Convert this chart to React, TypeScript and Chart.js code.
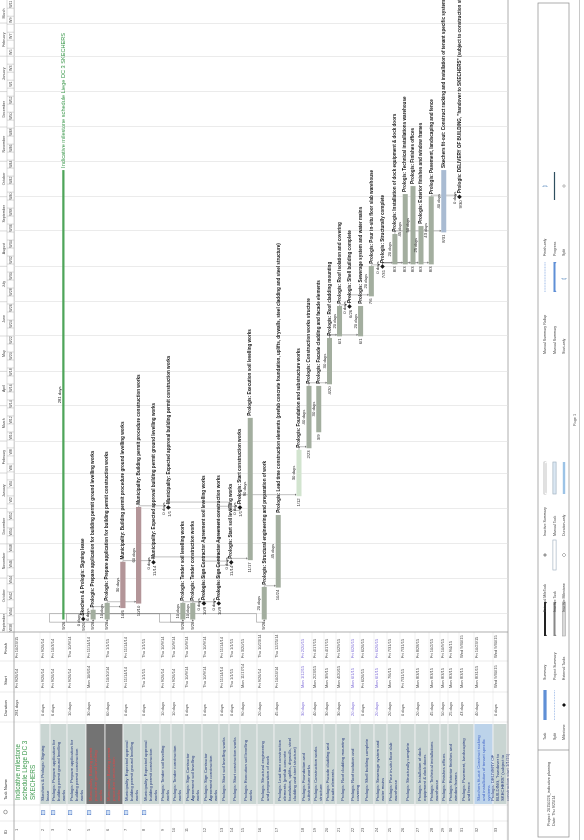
import React, { useEffect, useRef } from "react";
import { Chart, registerables } from "chart.js";
Chart.register(...registerables);

// ---------------- data ----------------
const taskIds = [
  1, 2, 3, 4, 5, 6, 7, 8, 9, 10, 11, 12, 13, 14, 15, 16, 17, 18, 19, 20, 21, 22, 23, 24, 25, 26, 27, 28, 29, 30, 31, 32, 33,
];
const taskNames = [
  "Indicative milestone\nschedule Liege DC 3\nSKECHERS",
  "Skechers & Prologis: Signing\nlease",
  "Prologis: Prepare application for\nbuilding permit ground levelling\nworks",
  "Prologis: Prepare application for\nbuilding permit construction\nworks",
  "Municipality: Building permit\nprocedure ground levelling\nworks",
  "Municipality: Building permit\nprocedure construction\nworks",
  "Municipality: Expected approval\nbuilding permit ground levelling\nworks",
  "Municipality: Expected approval\nbuilding permit construction\nworks",
  "Prologis: Tender soil levelling\nworks",
  "Prologis: Tender construction\nworks",
  "Prologis: Sign Contractor\nAgreement soil levelling\nworks",
  "Prologis: Sign Contractor\nAgreement construction\nworks",
  "Prologis: Start soil levelling works",
  "Prologis: Start construction works",
  "Prologis: Execution soil levelling\nworks",
  "Prologis: Structural engineering\nand preparation of work",
  "Prologis: Lead time construction\nelements (prefab concrete\nfoundation, uplifts, drywalls, steel\ncladding and steel structure)",
  "Prologis: Foundation and\nsubstructure works",
  "Prologis: Construction works\nstructure",
  "Prologis: Facade cladding and\nfacade elements",
  "Prologis: Roof cladding mounting",
  "Prologis: Roof isolation and\ncovering",
  "Prologis: Shell building complete",
  "Prologis: Sewerage system and\nwater mains",
  "Prologis: Pour in-situ floor slab\nwarehouse",
  "Prologis: Structurally complete",
  "Prologis: Installation of dock\nequipment & dock doors",
  "Prologis: Technical installations\nwarehouse",
  "Prologis: Finishes offices",
  "Prologis: Exterior finishes and\nwindow frames",
  "Prologis: Pavement, landscaping\nand fence",
  "Skechers fit-out: Construct racking\nand installation of tenant specific\nsystems",
  "Prologis: DELIVERY OF\nBUILDING, \"handover to\nSKECHERS\" (subject to\nconstruction start 1/1/15)",
];
const durations = [
  "281 days", "0 days", "6 days", "10 days", "30 days", "60 days", "0 days", "0 days", "10 days", "10 days",
  "0 days", "0 days", "0 days", "0 days", "90 days", "20 days", "45 days", "30 days", "40 days", "30 days",
  "30 days", "20 days", "0 days", "20 days", "20 days", "0 days", "20 days", "45 days", "50 days", "25 days",
  "43 days", "40 days", "0 days",
];
const starts = [
  "Fri 9/26/14", "Fri 9/26/14", "Fri 9/26/14", "Fri 9/26/14", "Mon 10/6/14", "Fri 10/10/14", "Fri 11/14/14", "Thu 1/1/15",
  "Fri 9/26/14", "Fri 9/26/14", "Thu 10/9/14", "Thu 10/9/14", "Fri 11/14/14", "Thu 1/1/15", "Mon 11/17/14", "Fri 9/26/14",
  "Fri 10/24/14", "Mon 1/12/15", "Mon 2/23/15", "Mon 3/9/15", "Mon 4/20/15", "Mon 6/1/15", "Fri 6/26/15", "Mon 6/1/15",
  "Mon 7/6/15", "Fri 7/31/15", "Mon 8/3/15", "Mon 8/3/15", "Mon 8/3/15", "Mon 8/3/15", "Mon 8/3/15", "Mon 8/31/15",
  "Wed 9/30/15",
];
const finishes = [
  "Fri 10/23/15", "Fri 9/26/14", "Fri 10/3/14", "Thu 10/9/14", "Fri 11/14/14", "Thu 1/1/15", "Fri 11/14/14", "Thu 1/1/15",
  "Thu 10/9/14", "Thu 10/9/14", "Thu 10/9/14", "Thu 10/9/14", "Fri 11/14/14", "Thu 1/1/15", "Fri 3/20/15", "Thu 10/23/14",
  "Thu 12/25/14", "Fri 2/20/15", "Fri 4/17/15", "Fri 4/17/15", "Fri 5/29/15", "Fri 6/26/15", "Fri 6/26/15", "Fri 6/26/15",
  "Fri 7/31/15", "Fri 7/31/15", "Fri 8/28/15", "Fri 10/2/15", "Fri 10/9/15", "Fri 9/4/15", "Wed 9/30/15", "Fri 10/23/15",
  "Wed 9/30/15",
];
const predecessors: number[][] = [
  [], [], [2], [2], [3], [4], [5], [6], [2], [2], [9], [10], [7, 11], [8, 12], [13], [2], [16], [14], [18], [],
  [19], [21], [22], [21], [23], [25], [26], [26], [26], [26], [26], [27], [31],
];
const axisStart = "Sun 9/14/14";
const axisEnd = "Thu 3/17/16";
const monthNames = [
  "January", "February", "March", "April", "May", "June", "July", "August", "September", "October", "November", "December",
];
const legendGroups = [
  ["Task", "Split", "Milestone"],
  ["Summary", "Project Summary", "External Tasks"],
  ["External MileTask", "Inactive Task", "Inactive Milestone"],
  ["Inactive Summary", "Manual Task", "Duration-only"],
  ["Manual Summary Rollup", "Manual Summary", "Start-only"],
  ["Finish-only", "Progress", "Split"],
];
const projectInfo = ["Project: 20150226_indicative planning", "Date: Thu 9/25/14"];

// ---------------- layout & styles ----------------
const W = 840;
const H = 584;
const HEADER_H = 14;
const GANTT_LEFT = 208;
const GANTT_BOTTOM = 508;
const rowHeights = [26, 10, 17, 19, 19, 18, 18, 19, 11, 13, 18, 17, 10, 11, 17, 17, 26, 12, 12, 12, 14, 10, 14, 13, 13, 15, 14, 11, 8, 11, 15, 19, 14];
const barTone = ["s", "", "n", "n", "c", "c", "", "", "n", "n", "", "", "", "", "n", "n", "n", "l", "n", "n", "n", "n", "", "n", "n", "", "n", "n", "n", "n", "n", "b", ""];
const rowTone = ["title", "", "", "", "crit", "crit", "", "", "", "", "", "", "", "", "", "", "", "manual", "", "", "", "manual", "", "manual", "", "", "", "", "", "", "", "fit", ""];
const FONT = '"Liberation Sans", Arial, Helvetica, sans-serif';

const BASE = Date.UTC(2014, 8, 26);
function dayOf(s: string): number {
  const p = s.trim().split(" ");
  const [m, d, y] = p[p.length - 1].split("/").map(Number);
  return (Date.UTC(2000 + y, m - 1, d) - BASE) / 86400000;
}
function shortDate(s: string): string {
  const p = s.trim().split(" ");
  const [m, d] = p[p.length - 1].split("/");
  return `${m}/${d}`;
}
function isoWeek(t: number): number {
  const d = new Date(t);
  const day = (d.getUTCDay() + 6) % 7;
  d.setUTCDate(d.getUTCDate() - day + 3);
  const y = d.getUTCFullYear();
  const jan4 = Date.UTC(y, 0, 4);
  const j = new Date(jan4);
  const mon1 = jan4 - ((j.getUTCDay() + 6) % 7) * 864e5;
  return 1 + Math.floor((d.getTime() - mon1) / (7 * 864e5));
}

const rowTops: number[] = [];
{
  let acc = HEADER_H;
  rowHeights.forEach((h) => {
    rowTops.push(acc);
    acc += h;
  });
}
const rowBarY = rowHeights.map((h, i) => rowTops[i] + Math.min(h / 2, 7));
const startDays = starts.map(dayOf);
const finishDays = finishes.map(dayOf);
const isMilestone = durations.map((d) => d === "0 days");
const xMin = dayOf(axisStart) + 0.8;
const xMax = dayOf(axisEnd) + 0.7;

function barData(tone: string) {
  const out: { x: number[]; y: number }[] = [];
  taskIds.forEach((_, i) => {
    if (!isMilestone[i] && barTone[i] === tone) out.push({ x: [startDays[i], finishDays[i] + 1], y: rowBarY[i] });
  });
  return out;
}
function milestoneX(i: number) {
  return predecessors[i].length ? finishDays[i] + 0.85 : startDays[i] + 0.2;
}
function itemStart(i: number) {
  return isMilestone[i] ? milestoneX(i) : startDays[i];
}
function itemEnd(i: number) {
  return isMilestone[i] ? milestoneX(i) : finishDays[i] + 1;
}

const monthStarts: number[] = [];
{
  for (let y = 2014; y <= 2016; y++)
    for (let m = 0; m < 12; m++) {
      const d = (Date.UTC(y, m, 1) - BASE) / 864e5;
      if (d > xMin && d < xMax) monthStarts.push(d);
    }
}

const ganttPlugin = {
  id: "gantt",
  beforeDraw(chart: any) {
    const ctx: CanvasRenderingContext2D = chart.ctx;
    ctx.save();
    ctx.fillStyle = "#ffffff";
    ctx.fillRect(0, 0, W, H);

    // ---------- table ----------
    const nameL = 36;
    const nameR = 116;
    ctx.textBaseline = "middle";
    ctx.fillStyle = "#333";
    ctx.font = `4.2px ${FONT}`;
    ctx.textAlign = "left";
    ctx.fillText("ID", 6, 5.5);
    ctx.fillText("Task Name", 40, 5.5);
    ctx.fillText("Duration", 124, 5.5);
    ctx.fillText("Start", 155, 5.5);
    ctx.fillText("Finish", 186, 5.5);
    ctx.strokeStyle = "#666";
    ctx.lineWidth = 0.6;
    ctx.beginPath();
    ctx.arc(28, 5.5, 1.8, 0, Math.PI * 2);
    ctx.stroke();

    taskIds.forEach((id, i) => {
      const top = rowTops[i];
      const h = rowHeights[i];
      const tone = rowTone[i];
      let bg = "#c9d5d2";
      if (tone === "title") bg = "#ffffff";
      if (tone === "crit") bg = "#737373";
      if (tone === "fit") bg = "#bcd3ea";
      ctx.fillStyle = bg;
      ctx.fillRect(nameL, top + 0.4, nameR - nameL, h - 0.8);
      ctx.strokeStyle = "#e2e2e2";
      ctx.lineWidth = 0.5;
      ctx.beginPath();
      ctx.moveTo(0, top + h);
      ctx.lineTo(GANTT_LEFT, top + h);
      ctx.stroke();

      ctx.fillStyle = "#555";
      ctx.font = `4px ${FONT}`;
      ctx.textAlign = "center";
      ctx.fillText(String(id), 10, top + 3.2);
      if (i >= 1 && i <= 7) {
        ctx.strokeStyle = "#4a78c8";
        ctx.lineWidth = 0.6;
        ctx.strokeRect(25.5, top + 1.4, 4, 3.4);
        ctx.fillStyle = "#cfe0f5";
        ctx.fillRect(26, top + 1.9, 3, 2.4);
      }
      const lines = taskNames[i].split("\n");
      ctx.textAlign = "left";
      if (tone === "title") {
        ctx.fillStyle = "#3f9a4f";
        ctx.font = `6.4px ${FONT}`;
        lines.forEach((ln, k) => ctx.fillText(ln, nameL + 4, top + 4.5 + k * 7.2));
      } else {
        ctx.fillStyle = tone === "crit" ? "#e04848" : tone === "fit" ? "#3f63c8" : "#24387e";
        ctx.font = `4.3px ${FONT}`;
        const lh = 5.1;
        const y0 = top + h / 2 - ((lines.length - 1) * lh) / 2;
        lines.forEach((ln, k) => ctx.fillText(ln, nameL + 3, y0 + k * lh));
      }
      ctx.font = `4px ${FONT}`;
      ctx.fillStyle = tone === "manual" ? "#7a68d6" : "#444";
      const ty = top + 3.2;
      ctx.fillText(durations[i], 124, ty);
      ctx.fillText(starts[i], 152, ty);
      ctx.fillText(finishes[i], 182, ty);
    });
    ctx.strokeStyle = "#d4d4d4";
    ctx.lineWidth = 0.5;
    [19, 35, 118, 148, 179].forEach((u) => {
      ctx.beginPath();
      ctx.moveTo(u, 0);
      ctx.lineTo(u, GANTT_BOTTOM);
      ctx.stroke();
    });
    ctx.strokeStyle = "#9a9a9a";
    ctx.lineWidth = 0.8;
    ctx.beginPath();
    ctx.moveTo(0, HEADER_H);
    ctx.lineTo(W, HEADER_H);
    ctx.moveTo(GANTT_LEFT, 0);
    ctx.lineTo(GANTT_LEFT, GANTT_BOTTOM);
    ctx.moveTo(0, GANTT_BOTTOM);
    ctx.lineTo(W, GANTT_BOTTOM);
    ctx.stroke();

    // ---------- footer ----------
    const fTop = 538;
    const fBot = 569;
    ctx.strokeStyle = "#8a8a8a";
    ctx.lineWidth = 0.7;
    ctx.strokeRect(3, fTop, W - 6, fBot - fTop);
    ctx.beginPath();
    ctx.moveTo(90, fTop);
    ctx.lineTo(90, fBot);
    ctx.stroke();
    ctx.fillStyle = "#444";
    ctx.font = `3.8px ${FONT}`;
    ctx.textAlign = "left";
    projectInfo.forEach((t, k) => ctx.fillText(t, 14, 549 + k * 5));
    const gx = [100, 160, 228, 304, 486, 584];
    const gsw = [[120, 150], [204, 238], [270, 300], [346, 378], [548, 578], [640, 668]];
    legendGroups.forEach((g, gi) => {
      g.forEach((label, k) => {
        const yy = 545 + k * 9.5;
        ctx.fillStyle = "#444";
        ctx.font = `3.6px ${FONT}`;
        ctx.textAlign = "left";
        ctx.fillText(label, gx[gi], yy);
        const [a, b] = gsw[gi];
        drawSwatch(ctx, gi * 3 + k, a, b, yy);
      });
    });
    ctx.fillStyle = "#555";
    ctx.font = `3.8px ${FONT}`;
    ctx.textAlign = "center";
    ctx.fillText("Page 1", 420, 575);
    ctx.strokeStyle = "#c8c8c8";
    ctx.lineWidth = 1;
    ctx.beginPath();
    ctx.moveTo(0, 579.5);
    ctx.lineTo(W, 579.5);
    ctx.stroke();
    ctx.restore();
  },
  beforeDatasetsDraw(chart: any) {
    const ctx: CanvasRenderingContext2D = chart.ctx;
    const xs = chart.scales.x;
    const ys = chart.scales.y;
    ctx.save();
    ctx.fillStyle = "#ffffff";
    ctx.fillRect(GANTT_LEFT + 0.5, 0, W - GANTT_LEFT, HEADER_H - 0.5);
    ctx.strokeStyle = "#b5b5b5";
    ctx.lineWidth = 0.5;
    ctx.beginPath();
    ctx.moveTo(GANTT_LEFT, 7);
    ctx.lineTo(W, 7);
    ctx.stroke();
    const bounds = [xMin, ...monthStarts, xMax];
    ctx.fillStyle = "#444";
    ctx.textBaseline = "middle";
    ctx.textAlign = "center";
    ctx.font = `3.6px ${FONT}`;
    for (let k = 0; k < bounds.length - 1; k++) {
      const a = xs.getPixelForValue(bounds[k]);
      const b = xs.getPixelForValue(bounds[k + 1]);
      if (k > 0) {
        ctx.beginPath();
        ctx.moveTo(a, 0);
        ctx.lineTo(a, 7);
        ctx.stroke();
      }
      const mid = new Date(BASE + ((bounds[k] + bounds[k + 1]) / 2) * 864e5);
      const name = monthNames[mid.getUTCMonth()];
      if (b - a > 14) ctx.fillText(name, (a + b) / 2, 3.7);
    }
    let wk = dayOf("Mon 9/15/14");
    let n = 0;
    while (wk < xMax) {
      const a = xs.getPixelForValue(wk);
      const b = xs.getPixelForValue(wk + 7);
      if (wk > xMin) {
        ctx.beginPath();
        ctx.moveTo(a, 7);
        ctx.lineTo(a, HEADER_H);
        ctx.stroke();
      }
      if (n % 2 === 0 && b < W) {
        ctx.fillText("W" + isoWeek(BASE + wk * 864e5), (a + b) / 2, 10.6);
      }
      wk += 7;
      n++;
    }

    // links
    ctx.strokeStyle = "#8c8c8c";
    ctx.fillStyle = "#6a6a6a";
    ctx.lineWidth = 0.55;
    predecessors.forEach((preds, i) => {
      preds.forEach((p) => {
        const pi = p - 1;
        const xe = xs.getPixelForValue(itemEnd(pi)) + (isMilestone[pi] ? 2.4 : 0);
        const yp = ys.getPixelForValue(rowBarY[pi]);
        const xsPix = xs.getPixelForValue(itemStart(i));
        const yy = ys.getPixelForValue(rowBarY[i]);
        const half = isMilestone[i] ? 2.6 : 2.4;
        ctx.beginPath();
        if (xsPix >= xe - 2) {
          const tx = Math.max(xsPix + 1.2, xe + 1.5);
          ctx.moveTo(xe, yp);
          ctx.lineTo(tx, yp);
          ctx.lineTo(tx, yy - half - 1.2);
          ctx.stroke();
          ctx.beginPath();
          ctx.moveTo(tx - 1.1, yy - half - 1.6);
          ctx.lineTo(tx + 1.1, yy - half - 1.6);
          ctx.lineTo(tx, yy - half);
          ctx.closePath();
          ctx.fill();
        } else {
          const ox = xe + 3;
          const midY = rowTops[i] - 0.5;
          const ix = xsPix - 3;
          ctx.moveTo(xe, yp);
          ctx.lineTo(ox, yp);
          ctx.lineTo(ox, midY);
          ctx.lineTo(ix, midY);
          ctx.lineTo(ix, yy);
          ctx.lineTo(xsPix - 1.2, yy);
          ctx.stroke();
          ctx.beginPath();
          ctx.moveTo(xsPix - 1.8, yy - 1.1);
          ctx.lineTo(xsPix - 1.8, yy + 1.1);
          ctx.lineTo(xsPix, yy);
          ctx.closePath();
          ctx.fill();
        }
      });
    });
    ctx.restore();
  },
  afterDatasetsDraw(chart: any) {
    const ctx: CanvasRenderingContext2D = chart.ctx;
    const xs = chart.scales.x;
    const ys = chart.scales.y;
    ctx.save();
    ctx.textBaseline = "middle";
    taskIds.forEach((_, i) => {
      const a = xs.getPixelForValue(itemStart(i));
      const b = xs.getPixelForValue(itemEnd(i));
      const y = ys.getPixelForValue(rowBarY[i]);
      const ms = isMilestone[i];
      const title = rowTone[i] === "title";
      const name = taskNames[i].replace(/\n/g, " ");
      ctx.textAlign = "left";
      ctx.font = `${title ? "" : "bold "}${title ? 5.6 : 4.6}px ${FONT}`;
      ctx.fillStyle = title ? "#3f9a4f" : "#111";
      ctx.fillText(name, b + (ms ? 3.5 : 2.5), y);
      ctx.font = `4.2px ${FONT}`;
      ctx.fillStyle = "#222";
      ctx.textAlign = "right";
      ctx.fillText(shortDate(starts[i]), a - (ms ? 3.5 : 2.5), y + (ms ? 1 : 0));
      ctx.textAlign = "center";
      ctx.font = `4.2px ${FONT}`;
      const cx = ms ? a - 1 : (a + b) / 2;
      ctx.fillText(durations[i], cx, y - (ms ? 4.6 : title ? 3.6 : 5));
    });
    ctx.restore();
  },
};

function drawSwatch(ctx: CanvasRenderingContext2D, k: number, a: number, b: number, y: number) {
  ctx.save();
  const m = (a + b) / 2;
  ctx.lineWidth = 0.6;
  switch (k) {
    case 0:
      ctx.fillStyle = "#5f8fd6";
      ctx.fillRect(a, y - 1.6, b - a, 3.2);
      break;
    case 1:
      ctx.strokeStyle = "#5f8fd6";
      ctx.setLineDash([0.8, 0.8]);
      ctx.beginPath();
      ctx.moveTo(a, y);
      ctx.lineTo(b, y);
      ctx.stroke();
      break;
    case 2:
    case 6:
    case 8:
      ctx.fillStyle = k === 2 ? "#111" : k === 6 ? "#999" : "#fff";
      ctx.strokeStyle = "#888";
      ctx.beginPath();
      ctx.moveTo(m, y - 2);
      ctx.lineTo(m + 2, y);
      ctx.lineTo(m, y + 2);
      ctx.lineTo(m - 2, y);
      ctx.closePath();
      ctx.fill();
      if (k === 8) ctx.stroke();
      break;
    case 3:
    case 4:
    case 9:
    case 13:
      ctx.fillStyle = k === 3 ? "#222" : k === 4 ? "#888" : k === 13 ? "#5f8fd6" : "#fff";
      ctx.strokeStyle = "#999";
      ctx.fillRect(a, y - 1, b - a, 2);
      if (k === 9) ctx.strokeRect(a, y - 1, b - a, 2);
      ctx.beginPath();
      ctx.moveTo(a, y - 1);
      ctx.lineTo(a, y + 2);
      ctx.lineTo(a + 1.5, y + 1);
      ctx.moveTo(b, y - 1);
      ctx.lineTo(b, y + 2);
      ctx.lineTo(b - 1.5, y + 1);
      ctx.fill();
      break;
    case 5:
      ctx.fillStyle = "#d8d8d8";
      ctx.fillRect(a, y - 1.6, b - a, 3.2);
      ctx.strokeStyle = "#aaa";
      ctx.strokeRect(a, y - 1.6, b - a, 3.2);
      break;
    case 7:
    case 10:
      ctx.strokeStyle = "#9ab";
      ctx.fillStyle = k === 10 ? "#dbe8f3" : "#fff";
      ctx.fillRect(a, y - 1.6, b - a, 3.2);
      ctx.strokeRect(a, y - 1.6, b - a, 3.2);
      break;
    case 11:
      ctx.fillStyle = "#9cc3e6";
      ctx.fillRect(a, y - 1.2, b - a, 2.4);
      break;
    case 12:
      ctx.strokeStyle = "#5f8fd6";
      ctx.setLineDash([1, 0.6]);
      ctx.beginPath();
      ctx.moveTo(a, y);
      ctx.lineTo(b, y);
      ctx.stroke();
      break;
    case 14:
    case 15:
      ctx.strokeStyle = "#4a7fb8";
      ctx.beginPath();
      ctx.moveTo(m - 1, y - 2);
      ctx.lineTo(k === 14 ? m - 2 : m, y - 2);
      ctx.lineTo(k === 14 ? m - 2 : m, y + 2);
      ctx.lineTo(m - 1, y + 2);
      ctx.stroke();
      break;
    case 16:
      ctx.fillStyle = "#2f4f5f";
      ctx.fillRect(a, y - 0.6, b - a, 1.2);
      break;
    default:
      ctx.strokeStyle = "#888";
      ctx.beginPath();
      ctx.arc(m, y, 1.2, 0, Math.PI * 2);
      ctx.stroke();
  }
  ctx.restore();
}

export default function App() {
  const ref = useRef<HTMLCanvasElement>(null);
  useEffect(() => {
    document.body.style.margin = "0";
    document.body.style.overflow = "hidden";
    const barCommon = { grouped: false, borderWidth: 0, borderSkipped: false } as any;
    const chart = new Chart(ref.current as HTMLCanvasElement, {
      type: "bar",
      data: {
        datasets: [
          { ...barCommon, label: "summary", data: barData("s"), backgroundColor: "#4fa55a", barThickness: 1.6 },
          { ...barCommon, label: "tasks", data: barData("n"), backgroundColor: "#a3ae9f", barThickness: 4.4 },
          { ...barCommon, label: "municipality", data: barData("c"), backgroundColor: "#b39598", barThickness: 4.4 },
          { ...barCommon, label: "light", data: barData("l"), backgroundColor: "#d2e4cf", barThickness: 4.4 },
          { ...barCommon, label: "fit-out", data: barData("b"), backgroundColor: "#a9bbd2", barThickness: 4.4 },
          {
            type: "line",
            label: "milestones",
            data: taskIds
              .map((_, i) => (isMilestone[i] ? { x: milestoneX(i), y: rowBarY[i] } : null))
              .filter(Boolean) as any,
            showLine: false,
            pointStyle: "rectRot",
            pointRadius: 2.3,
            pointBackgroundColor: "#1a1a1a",
            pointBorderColor: "#1a1a1a",
            pointBorderWidth: 0,
          } as any,
        ],
      },
      options: {
        indexAxis: "y",
        animation: false,
        responsive: false,
        devicePixelRatio: 1,
        layout: { padding: { left: GANTT_LEFT, right: 0, top: 0, bottom: H - GANTT_BOTTOM } },
        plugins: { legend: { display: false }, tooltip: { enabled: false }, title: { display: false } },
        scales: {
          x: {
            type: "linear",
            min: xMin,
            max: xMax,
            position: "top",
            afterBuildTicks: (scale: any) => {
              scale.ticks = monthStarts.map((v) => ({ value: v }));
            },
            ticks: { display: false },
            grid: { color: "#dedede", lineWidth: 0.6, drawTicks: false },
            border: { display: false },
          },
          y: { type: "linear", min: 0, max: GANTT_BOTTOM, reverse: true, display: false },
        },
      } as any,
      plugins: [ganttPlugin],
    });
    return () => chart.destroy();
  }, []);
  return (
    <div
      style={{
        position: "fixed",
        left: 0,
        top: 0,
        width: W,
        height: H,
        transformOrigin: "0 0",
        transform: `translate(0px, ${W}px) rotate(-90deg)`,
        background: "#fff",
      }}
    >
      <canvas ref={ref} width={W} height={H} style={{ display: "block", width: W, height: H }} />
    </div>
  );
}
